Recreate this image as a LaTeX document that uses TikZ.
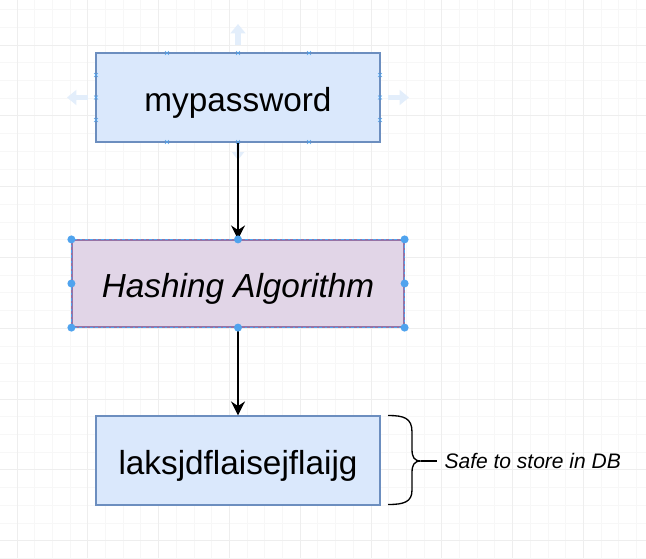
\documentclass[tikz,border=0pt]{standalone}
\usepackage{fontspec}
\setmainfont{Liberation Sans}
\usetikzlibrary{arrows.meta}
\definecolor{bluefill}{HTML}{DAE8FC}
\definecolor{blueline}{HTML}{6C8EBF}
\definecolor{purplefill}{HTML}{E1D5E7}
\definecolor{purpleline}{HTML}{9673A6}
\definecolor{handle}{HTML}{4FA3EE}
\definecolor{hover}{HTML}{E3EEFB}
\definecolor{minorgrid}{HTML}{F7F7F7}
\definecolor{majorgrid}{HTML}{EEEEEE}
\begin{document}
\begin{tikzpicture}[x=0.75pt, y=-0.75pt,
        bluebox/.style={rectangle, draw=blueline, fill=bluefill, line width=0.9pt, minimum width=213pt, minimum height=66.75pt, text height=24pt, text depth=3.4pt, font=\fontsize{25}{28}\selectfont},
        hashbox/.style={rectangle, draw=purpleline, fill=purplefill, line width=0.9pt, minimum width=249pt, minimum height=65.25pt, text height=24pt, text depth=3.4pt, font=\fontsize{25}{28}\selectfont\itshape},
        flow/.style={line width=1.5pt, -{Stealth[length=10.5pt, width=10.5pt, inset=3.5pt]}},
        grip/.style={circle, fill=handle, inner sep=0pt, minimum size=6pt},
        cpmark/.style={handle, line width=0.5pt}]
        \useasboundingbox (0, 0) rectangle (646, 558);
        \fill[white] (0, 0) rectangle (646, 558);

        % grid
        \foreach \i in {0,...,36}
            \draw[minorgrid, line width=0.5pt] ({16.9+17.7*\i}, 0) -- ({16.9+17.7*\i}, 558);
        \foreach \i in {0,...,31}
            \draw[minorgrid, line width=0.5pt] (0, {9.6+17.7*\i}) -- (646, {9.6+17.7*\i});
        \foreach \i in {0,...,8}
            \draw[majorgrid, line width=0.6pt] ({16.9+70.8*\i}, 0) -- ({16.9+70.8*\i}, 558);
        \foreach \i in {0,...,7}
            \draw[majorgrid, line width=0.6pt] (0, {45+70.8*\i}) -- (646, {45+70.8*\i});

        % hover arrows
        \draw[hover, line width=4pt, -{Triangle[length=7pt, width=11pt]}] (238, 45) -- (238, 24);
        \draw[hover, line width=4pt, -{Triangle[length=7pt, width=11pt]}] (88, 97.5) -- (67, 97.5);
        \draw[hover, line width=4pt, -{Triangle[length=7pt, width=11pt]}] (388, 97.5) -- (409, 97.5);
        \draw[hover, line width=3pt, -{Triangle[length=6pt, width=9pt]}] (238, 145) -- (238, 160);

        \node[bluebox] (pw) at (238, 97.5) {mypassword};
        \node[hashbox] (hash) at (238, 283.5) {Hashing Algorithm};
        \node[bluebox] (out) at (238, 460.5) {laksjdflaisejflaijg};
        \node[font=\fontsize{15.75}{18}\selectfont\itshape, anchor=west, inner sep=5.5pt] (safe) at (437, 461) {Safe to store in DB};

        % connection points
        \foreach \x in {167, 238, 309}
            \foreach \y in {53, 142}
                \draw[cpmark] (\x-2, \y-2) -- (\x+2, \y+2) (\x-2, \y+2) -- (\x+2, \y-2);
        \foreach \x in {96, 380}
            \foreach \y in {75, 97.5, 120}
                \draw[cpmark] (\x-2, \y-2) -- (\x+2, \y+2) (\x-2, \y+2) -- (\x+2, \y-2);

        \draw[flow] (pw) -- (hash);
        \draw[flow] (hash) -- (out);

        % selection of hash box
        \draw[handle, line width=0.5pt, dash pattern=on 2pt off 2pt] (hash.north west) rectangle (hash.south east);
        \foreach \a in {north west, north, north east, west, east, south west, south, south east}
            \node[grip] at (hash.\a) {};

        % brace
        \draw[line width=1pt] (388, 415.5) .. controls (404, 415.5) and (412, 418) .. (412, 432)
            -- (412, 449) .. controls (412, 457) and (414, 461) .. (421, 461)
            .. controls (414, 461) and (412, 465) .. (412, 473)
            -- (412, 490) .. controls (412, 502) and (404, 504.5) .. (388, 504.5);
        \draw[line width=1pt] (421, 461) -- (safe.west);
    \end{tikzpicture}
\end{document}
